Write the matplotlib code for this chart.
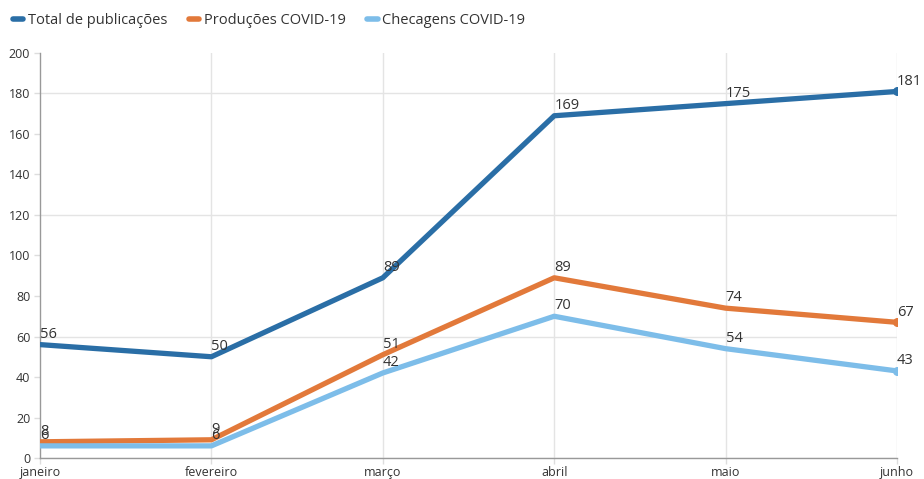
import matplotlib.pyplot as plt

meses = ['janeiro', 'fevereiro', 'março', 'abril', 'maio', 'junho']
total = [56, 50, 89, 169, 175, 181]
producoes = [8, 9, 51, 89, 74, 67]
checagens = [6, 6, 42, 70, 54, 43]

series = [
    ('Total de publicações', total, '#2a6ea6'),
    ('Produções COVID-19', producoes, '#e2793a'),
    ('Checagens COVID-19', checagens, '#7dbde9'),
]

plt.rcParams['font.family'] = ['Open Sans', 'DejaVu Sans']

fig = plt.figure(figsize=(9.24, 4.79), dpi=100)
ax = fig.add_axes([0.0433, 0.0438, 0.9275, 0.8456])

x = list(range(len(meses)))
for name, vals, color in series:
    ax.plot(x, vals, color=color, lw=3.8, solid_capstyle='round',
            solid_joinstyle='round', label=name, zorder=3)
    ax.plot(x[-1], vals[-1], 'o', color=color, ms=5.5, zorder=4)
    # labels sit just above-right of each point, as in the original
    for xi, v in zip(x, vals):
        ax.annotate(str(v), (xi, v), xytext=(0, 2), textcoords='offset points',
                    ha='left', va='bottom', fontsize=10.5, color='#333333', zorder=5)

ax.set_xlim(0, 5)
ax.set_ylim(0, 200)
ax.set_xticks(x)
ax.set_xticklabels(meses)
ax.set_yticks(range(0, 201, 20))
for v in (0, 60, 120, 180):
    ax.axhline(v, color='#e4e4e4', lw=1, zorder=1)
for xi in x[1:]:
    ax.axvline(xi, color='#e4e4e4', lw=1, zorder=1)

for s in ('top', 'right'):
    ax.spines[s].set_visible(False)
for s in ('left', 'bottom'):
    ax.spines[s].set_color('#999999')
    ax.spines[s].set_linewidth(1)
ax.tick_params(axis='both', colors='#dddddd', labelcolor='#333333',
               labelsize=9, length=4, width=1)
ax.tick_params(axis='y', pad=3)
ax.tick_params(axis='x', pad=2)

leg = fig.legend(loc='upper left', bbox_to_anchor=(0.0, 1.0), ncol=3, frameon=False,
                 fontsize=10.5, handlelength=0.7, handletextpad=0.3, columnspacing=1.5,
                 labelcolor='#333333')
for h in leg.legend_handles:
    h.set_linewidth(4)

fig.savefig('out.png', dpi=100)
